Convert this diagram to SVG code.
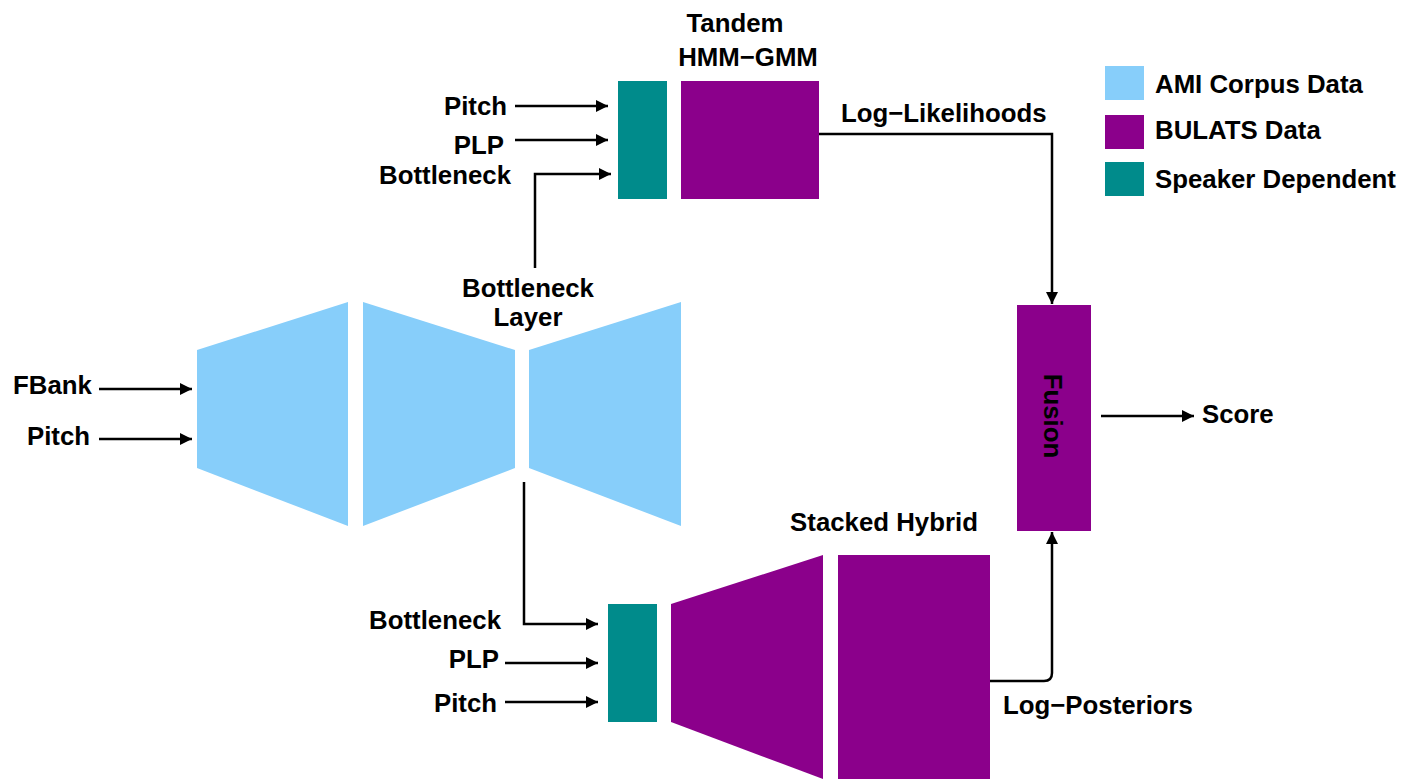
<svg xmlns="http://www.w3.org/2000/svg" width="1402" height="779" viewBox="0 0 1402 779">
  <defs>
    <marker id="arrow" markerUnits="userSpaceOnUse" markerWidth="12" markerHeight="12" viewBox="0 0 12 12" refX="12" refY="6" orient="auto">
      <path d="M0,0 L12,6 L0,12 z" fill="#000"/>
    </marker>
    <style>
      text { font-family: "Liberation Sans", Arial, Helvetica, sans-serif; font-weight: bold; font-size: 25.8px; fill: #000; }
      .end { text-anchor: end; }
      .mid { text-anchor: middle; }
      .ami { fill: #87CEFA; }
      .bulats { fill: #8B008B; }
      .spk { fill: #008B8B; }
      .conn { fill: none; stroke: #000; stroke-width: 2.5; marker-end: url(#arrow); }
      .plain { fill: none; stroke: #000; stroke-width: 2.5; }
    </style>
  </defs>

  <rect width="1402" height="779" fill="#fff"/>

  <!-- Bottleneck DNN (AMI-trained) -->
  <g id="bottleneck-dnn">
    <polygon class="ami" points="197,350 348,302 348,526 197,468"/>
    <polygon class="ami" points="363,302 515,350 515,468 363,526"/>
    <polygon class="ami" points="529,350 681,302 681,526 529,468"/>
    <text class="mid" x="528" y="297">Bottleneck</text>
    <text class="mid" x="528" y="326">Layer</text>
  </g>

  <!-- DNN inputs -->
  <g id="dnn-inputs">
    <text x="13" y="394">FBank</text>
    <text x="27" y="445">Pitch</text>
  </g>

  <!-- Tandem HMM-GMM system -->
  <g id="tandem">
    <rect class="spk" x="618" y="81" width="49" height="118"/>
    <rect class="bulats" x="681" y="81" width="138" height="118"/>
    <text class="mid" x="735" y="32">Tandem</text>
    <text class="mid" x="748" y="66">HMM−GMM</text>
  </g>

  <g id="tandem-inputs">
    <text class="end" x="507" y="115">Pitch</text>
    <text class="end" x="504" y="154">PLP</text>
    <text class="end" x="511" y="184">Bottleneck</text>
  </g>

  <!-- Stacked hybrid system -->
  <g id="stacked-hybrid">
    <rect class="spk" x="608" y="604" width="49" height="118"/>
    <polygon class="bulats" points="671,604 823,555 823,779 671,722"/>
    <rect class="bulats" x="838" y="555" width="152" height="224"/>
    <text class="mid" x="884" y="531">Stacked Hybrid</text>
  </g>

  <g id="hybrid-inputs">
    <text class="end" x="501" y="629">Bottleneck</text>
    <text class="end" x="499" y="668">PLP</text>
    <text class="end" x="497" y="712">Pitch</text>
  </g>

  <!-- Fusion -->
  <g id="fusion">
    <rect class="bulats" x="1017" y="305" width="74" height="226"/>
    <text class="mid" transform="translate(1053,416) rotate(90)" x="0" y="9">Fusion</text>
  </g>

  <g id="score">
    <text x="1202" y="423">Score</text>
  </g>

  <g id="edge-labels">
    <text x="841" y="122">Log−Likelihoods</text>
    <text x="1003" y="714">Log−Posteriors</text>
  </g>

  <!-- Legend -->
  <g id="legend">
    <rect class="ami" x="1105" y="66" width="39" height="34"/>
    <rect class="bulats" x="1105" y="115" width="39" height="34"/>
    <rect class="spk" x="1105" y="162" width="39" height="34"/>
    <text x="1155" y="93">AMI Corpus Data</text>
    <text x="1155" y="139">BULATS Data</text>
    <text x="1155" y="188">Speaker Dependent</text>
  </g>

  <!-- Connectors -->
  <g id="connectors">
    <line class="conn" x1="99" y1="389" x2="192" y2="389"/>
    <line class="conn" x1="99" y1="439" x2="192" y2="439"/>

    <line class="conn" x1="515" y1="106" x2="608" y2="106"/>
    <line class="conn" x1="515" y1="140" x2="608" y2="140"/>
    <path class="conn" d="M535,268 V174 H611"/>

    <path class="conn" d="M524,482 V624 H598"/>
    <line class="conn" x1="505" y1="663" x2="598" y2="663"/>
    <line class="conn" x1="505" y1="702" x2="598" y2="702"/>

    <path class="conn" d="M819,134 H1052 V304"/>
    <path class="conn" d="M990,681 H1044 Q1052,681 1052,673 V532"/>

    <line class="conn" x1="1101" y1="416" x2="1194" y2="416"/>
  </g>
</svg>
